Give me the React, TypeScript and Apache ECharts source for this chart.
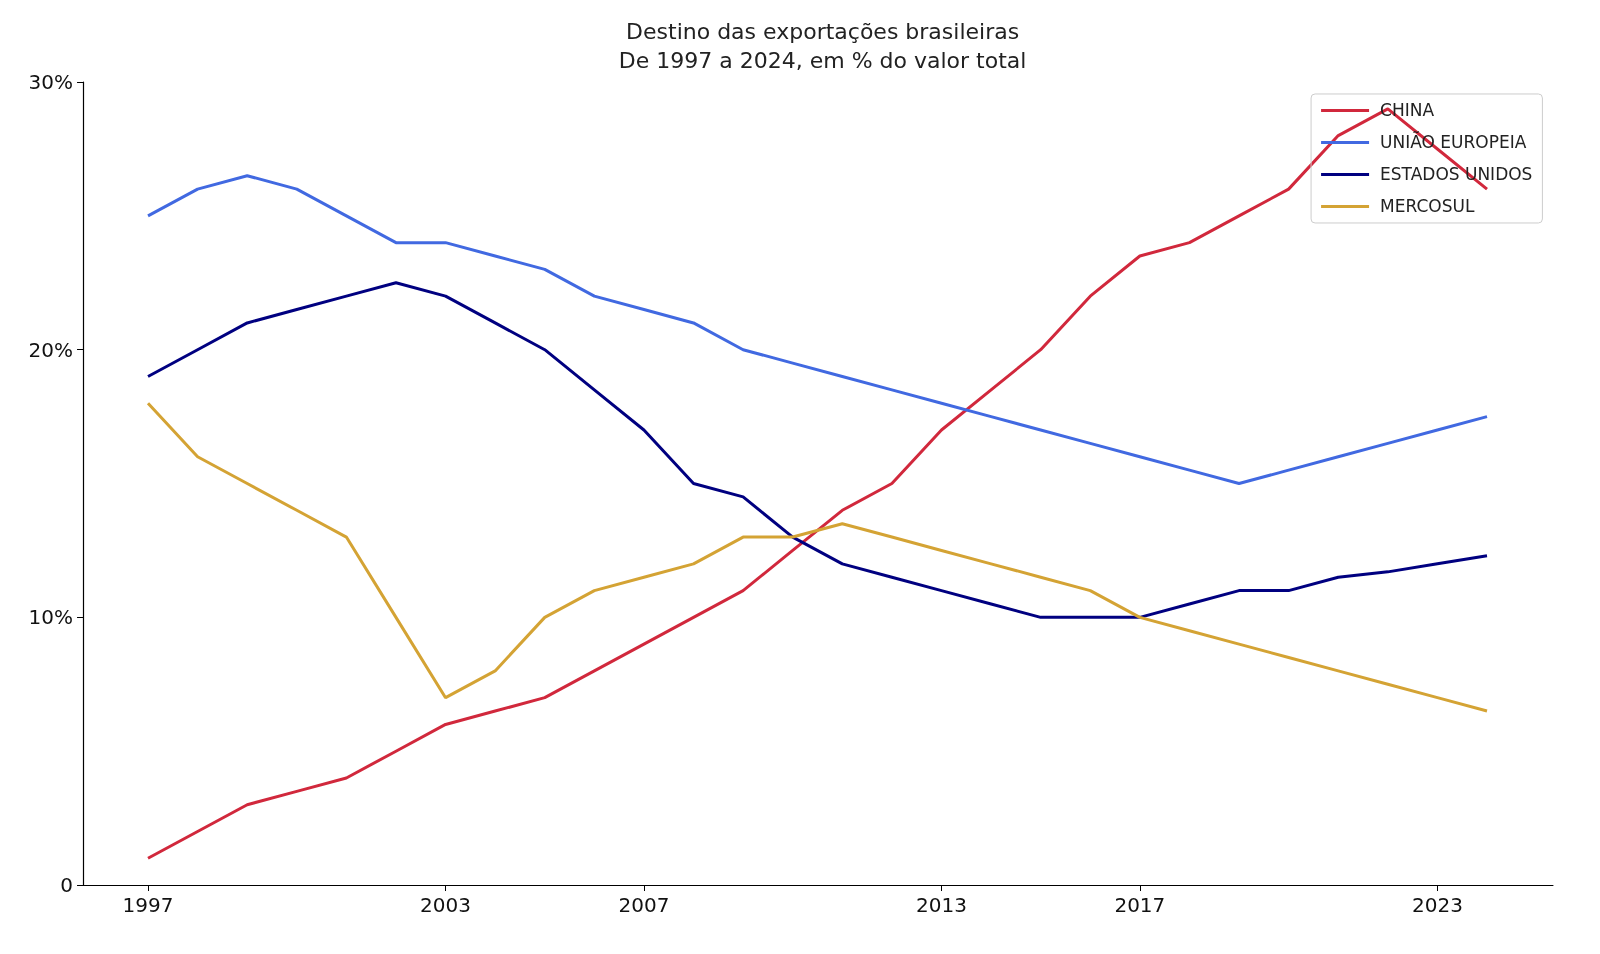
import { useEffect, useRef } from 'react'
import * as echarts from 'echarts'

const years = Array.from({ length: 28 }, (_, i) => 1997 + i)
const tickYears = [1997, 2003, 2007, 2013, 2017, 2023]

const china = [1, 2, 3, 3.5, 4, 5, 6, 6.5, 7, 8, 9, 10, 11, 12.5, 14, 15, 17, 18.5, 20, 22, 23.5, 24, 25, 26, 28, 29, 27.5, 26]
const uniaoEuropeia = [25, 26, 26.5, 26, 25, 24, 24, 23.5, 23, 22, 21.5, 21, 20, 19.5, 19, 18.5, 18, 17.5, 17, 16.5, 16, 15.5, 15, 15.5, 16, 16.5, 17, 17.5]
const estadosUnidos = [19, 20, 21, 21.5, 22, 22.5, 22, 21, 20, 18.5, 17, 15, 14.5, 13, 12, 11.5, 11, 10.5, 10, 10, 10, 10.5, 11, 11, 11.5, 11.7, 12, 12.3]
const mercosul = [18, 16, 15, 14, 13, 10, 7, 8, 10, 11, 11.5, 12, 13, 13, 13.5, 13, 12.5, 12, 11.5, 11, 10, 9.5, 9, 8.5, 8, 7.5, 7, 6.5]

const seriesDefs = [
  { name: 'CHINA', data: china, color: '#d1283c' },
  { name: 'UNIÃO EUROPEIA', data: uniaoEuropeia, color: '#4169e1' },
  { name: 'ESTADOS UNIDOS', data: estadosUnidos, color: '#000080' },
  { name: 'MERCOSUL', data: mercosul, color: '#d4a334' },
]

const font = 'DejaVu Sans'

const App = () => {
  const ref = useRef<HTMLDivElement>(null)

  useEffect(() => {
    if (!ref.current) return
    const chart = echarts.init(ref.current, undefined, { renderer: 'svg' })
    chart.setOption({
      animation: false,
      textStyle: { fontFamily: font },
      title: {
        text: 'Destino das exportações brasileiras\nDe 1997 a 2024, em % do valor total',
        left: '51.1%',
        top: 12,
        textAlign: 'center',
        textStyle: { fontSize: 22, fontWeight: 'normal', color: '#222', lineHeight: 29, fontFamily: font },
      },
      legend: {
        orient: 'vertical',
        right: '3.6%',
        top: '9.85%',
        padding: [8, 10, 8, 10],
        borderColor: '#ccc',
        borderWidth: 1,
        borderRadius: 4,
        itemWidth: 48,
        itemHeight: 3,
        itemGap: 15,
        icon: 'rect',
        textStyle: { fontSize: 17, color: '#222', fontFamily: font, padding: [0, 0, 0, 6] },
        data: seriesDefs.map((s) => s.name),
      },
      grid: { left: '5.19%', right: '2.94%', top: '8.6%', bottom: '7.23%' },
      xAxis: {
        type: 'value',
        min: 1995.69,
        max: 2025.33,
        splitLine: { show: false },
        axisLine: { lineStyle: { color: '#000', width: 1.2 } },
        axisTick: { show: true, customValues: tickYears, length: 6, lineStyle: { color: '#000' } },
        axisLabel: { customValues: tickYears, fontSize: 20, color: '#111', margin: 10, formatter: (v: number) => String(v) },
      },
      yAxis: {
        type: 'value',
        min: 0,
        max: 30,
        interval: 10,
        splitLine: { show: false },
        axisLine: { show: true, lineStyle: { color: '#000', width: 1.2 } },
        axisTick: { show: true, length: 6, lineStyle: { color: '#000' } },
        axisLabel: { fontSize: 20, color: '#111', margin: 10, formatter: (v: number) => (v === 0 ? '0' : v + '%') },
      },
      series: seriesDefs.map((s) => ({
        name: s.name,
        type: 'line',
        data: years.map((y, i) => [y, s.data[i]]),
        showSymbol: false,
        color: s.color,
        lineStyle: { color: s.color, width: 3 },
      })),
    })
    const onResize = () => chart.resize()
    window.addEventListener('resize', onResize)
    return () => {
      window.removeEventListener('resize', onResize)
      chart.dispose()
    }
  }, [])

  return <div ref={ref} style={{ position: 'fixed', left: 0, top: 0, width: '100vw', height: '100vh' }} />
}

export default App
